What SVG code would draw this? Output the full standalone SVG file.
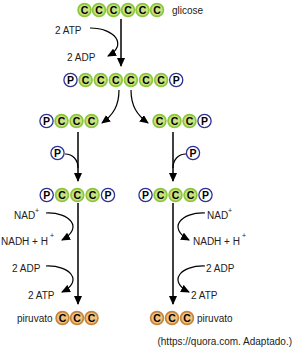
<svg xmlns="http://www.w3.org/2000/svg" width="294" height="348" viewBox="0 0 294 348">
<style>
.g{fill:#c9e27e;stroke:#8cc63e;stroke-width:1.7}
.p{fill:#fff;stroke:#2e3192;stroke-width:1.3}
.o{fill:#f2c27c;stroke:#c4843c;stroke-width:1.7}
.l{font-family:"Liberation Sans",Arial,sans-serif;font-weight:bold;font-size:10.5px;text-anchor:middle;fill:#000}
.t{font-family:"Liberation Sans",Arial,sans-serif;font-size:10px;fill:#222}
.s{font-family:"Liberation Sans",Arial,sans-serif;font-size:7px;fill:#222}
.c{fill:none;stroke:#000;stroke-width:1.2}
.v{fill:none;stroke:#000;stroke-width:1.5}
</style>
<defs>
<marker id="ah" markerUnits="userSpaceOnUse" markerWidth="9" markerHeight="8" refX="8" refY="4" orient="auto">
<path d="M0,0 L9,4 L0,8 z" fill="#000"/>
</marker>
<g id="gC"><circle r="6.4" class="g"/><text y="3.7" class="l">C</text></g>
<g id="pC"><circle r="6.6" class="p"/><text y="3.7" class="l">P</text></g>
<g id="oC"><circle r="6.4" class="o"/><text y="3.7" class="l">C</text></g>
</defs>

<g id="connectors">
<line x1="121" y1="19" x2="121" y2="66" class="v" marker-end="url(#ah)"/>
<path d="M90,28 C115,28 128,45 108,56" class="c" marker-end="url(#ah)"/>
<path d="M119,90 C119,106 113,115 102,123" class="c" marker-end="url(#ah)"/>
<path d="M131,90 C131,106 137,115 148,123" class="c" marker-end="url(#ah)"/>
<line x1="78" y1="132" x2="78" y2="181" class="v" marker-end="url(#ah)"/>
<line x1="173" y1="132" x2="173" y2="181" class="v" marker-end="url(#ah)"/>
<path d="M65,154 C73,154 78,160 78,168" class="c"/>
<path d="M186,154 C178,154 173,160 173,168" class="c"/>
<line x1="78" y1="203" x2="78" y2="304" class="v" marker-end="url(#ah)"/>
<line x1="173" y1="203" x2="173" y2="304" class="v" marker-end="url(#ah)"/>
<path d="M46,213 C70,212 84,228 62,240" class="c" marker-end="url(#ah)"/>
<path d="M46,266 C70,265 84,281 62,292" class="c" marker-end="url(#ah)"/>
<path d="M205,213 C181,212 167,228 189,240" class="c" marker-end="url(#ah)"/>
<path d="M205,266 C181,265 167,281 189,292" class="c" marker-end="url(#ah)"/>
</g>

<g id="glicose">
<use href="#gC" x="84.5" y="10"/><use href="#gC" x="99" y="10"/><use href="#gC" x="113.5" y="10"/>
<use href="#gC" x="128" y="10"/><use href="#gC" x="142.5" y="10"/><use href="#gC" x="157" y="10"/>
<text x="172" y="14" class="t">glicose</text>
</g>

<g id="frutose-bifosfato">
<use href="#pC" x="70.5" y="80"/><use href="#gC" x="85.6" y="80"/><use href="#gC" x="100.7" y="80"/>
<use href="#gC" x="115.8" y="80"/><use href="#gC" x="130.9" y="80"/><use href="#gC" x="146" y="80"/>
<use href="#gC" x="161.1" y="80"/><use href="#pC" x="176.2" y="80"/>
</g>

<g id="left3">
<use href="#pC" x="46.5" y="121"/><use href="#gC" x="61.5" y="121"/><use href="#gC" x="76.5" y="121"/><use href="#gC" x="91.5" y="121"/>
</g>
<g id="right3">
<use href="#gC" x="159.5" y="121"/><use href="#gC" x="174.5" y="121"/><use href="#gC" x="189.5" y="121"/><use href="#pC" x="204.5" y="121"/>
</g>

<g id="leftP"><use href="#pC" x="57.5" y="153"/></g>
<g id="rightP"><use href="#pC" x="193" y="153"/></g>

<g id="left4">
<use href="#pC" x="46.7" y="195"/><use href="#gC" x="62" y="195"/><use href="#gC" x="77.3" y="195"/><use href="#gC" x="92.6" y="195"/><use href="#pC" x="108" y="195"/>
</g>
<g id="right4">
<use href="#pC" x="145.5" y="195"/><use href="#gC" x="160.5" y="195"/><use href="#gC" x="175.5" y="195"/><use href="#gC" x="190.5" y="195"/><use href="#pC" x="205.5" y="195"/>
</g>

<g id="labels">
<text x="55" y="34" class="t">2 ATP</text>
<text x="67" y="61" class="t">2 ADP</text>
<text x="14" y="219" class="t">NAD</text><text x="35" y="213" class="s">+</text>
<text x="1" y="245" class="t">NADH + H</text><text x="50" y="238" class="s">+</text>
<text x="12" y="272" class="t">2 ADP</text>
<text x="28" y="299" class="t">2 ATP</text>
<text x="207" y="219" class="t">NAD</text><text x="228" y="213" class="s">+</text>
<text x="193" y="245" class="t">NADH + H</text><text x="242" y="238" class="s">+</text>
<text x="206" y="272" class="t">2 ADP</text>
<text x="191" y="299" class="t">2 ATP</text>
</g>

<g id="piruvato-left">
<text x="17" y="322" class="t">piruvato</text>
<use href="#oC" x="62.5" y="318"/><use href="#oC" x="77" y="318"/><use href="#oC" x="91.5" y="318"/>
</g>
<g id="piruvato-right">
<use href="#oC" x="157" y="318"/><use href="#oC" x="172" y="318"/><use href="#oC" x="187" y="318"/>
<text x="197" y="322" class="t">piruvato</text>
</g>

<text x="292" y="345" class="t" text-anchor="end">(https://quora.com. Adaptado.)</text>
</svg>
